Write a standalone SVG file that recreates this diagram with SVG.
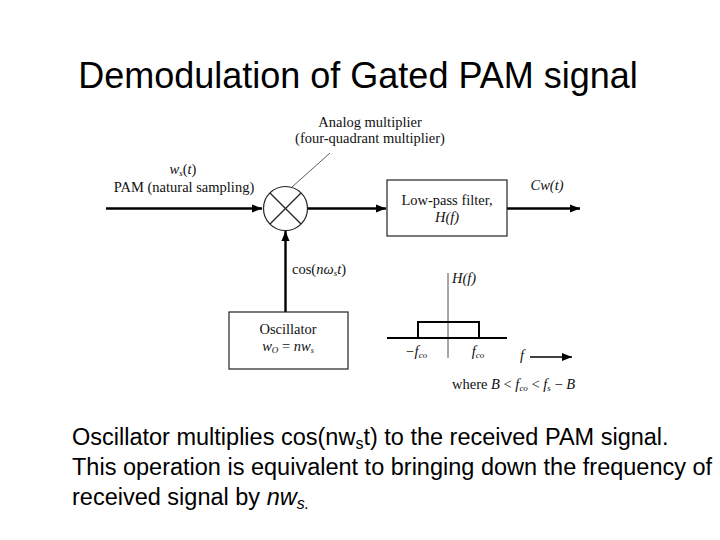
<svg xmlns="http://www.w3.org/2000/svg" width="720" height="540" viewBox="0 0 720 540">
<defs>
<marker id="ah" viewBox="0 0 10 10" refX="10" refY="5" markerWidth="10" markerHeight="10" markerUnits="userSpaceOnUse" orient="auto"><path d="M0,1 L10,5 L0,9 z" fill="#000"/></marker>
<style>
.s{font-family:"Liberation Serif",serif;font-size:14.5px;fill:#111}
.i{font-style:italic}
.b{fill:none;stroke:#222;stroke-width:1.2}
.w{stroke:#000;stroke-width:2.4;fill:none}
.t{font-family:"Liberation Sans",Arial,sans-serif;fill:#000}
</style>
</defs>
<rect width="720" height="540" fill="#fff"/>
<text class="t" x="358" y="88" font-size="36" text-anchor="middle">Demodulation of Gated PAM signal</text>
<g id="connectors">
<line class="w" x1="106" y1="208.5" x2="262" y2="208.5" marker-end="url(#ah)"/>
<line class="w" x1="308" y1="208.5" x2="386" y2="208.5" marker-end="url(#ah)"/>
<line class="w" x1="507" y1="208.5" x2="580" y2="208.5" marker-end="url(#ah)"/>
<line class="w" x1="285.5" y1="312" x2="285.5" y2="231" marker-end="url(#ah)"/>
<line x1="330" y1="153" x2="292" y2="187" stroke="#333" stroke-width="0.8"/>
</g>
<g id="multiplier">
<circle cx="285.5" cy="208.5" r="22" class="b"/>
<line x1="270" y1="193" x2="301" y2="224" stroke="#222" stroke-width="1.2"/>
<line x1="301" y1="193" x2="270" y2="224" stroke="#222" stroke-width="1.2"/>
<text class="s" x="370" y="127" text-anchor="middle">Analog multiplier</text>
<text class="s" x="370" y="143" text-anchor="middle">(four-quadrant multiplier)</text>
</g>
<g id="input">
<text class="s" x="183" y="174" text-anchor="middle"><tspan class="i">w</tspan><tspan font-size="9" dy="2" class="i">s</tspan><tspan dy="-2">(</tspan><tspan class="i">t</tspan>)</text>
<text class="s" x="184" y="192" text-anchor="middle">PAM (natural sampling)</text>
</g>
<g id="filter">
<rect x="387" y="180" width="120" height="56" class="b"/>
<text class="s" x="447" y="205" text-anchor="middle">Low-pass filter,</text>
<text class="s i" x="447" y="222" text-anchor="middle">H(f)</text>
</g>
<g id="output">
<text class="s i" x="547" y="190" text-anchor="middle">Cw(t)</text>
</g>
<g id="oscillator">
<rect x="229" y="312" width="119" height="57" class="b"/>
<text class="s" x="288" y="334" text-anchor="middle">Oscillator</text>
<text class="s" x="288" y="351" text-anchor="middle" font-size="12"><tspan class="i">w</tspan><tspan class="i" font-size="9" dy="2">O</tspan><tspan dy="-2"> = </tspan><tspan class="i">nw</tspan><tspan class="i" font-size="8" dy="2">s</tspan></text>
<text class="s" x="292" y="274">cos(<tspan class="i">nω</tspan><tspan class="i" font-size="9" dy="2">s</tspan><tspan class="i" dy="-2">t</tspan>)</text>
</g>
<g id="response">
<line x1="387" y1="338" x2="507" y2="338" stroke="#000" stroke-width="2"/>
<polyline points="418,338 418,322 479,322 479,338" stroke="#000" stroke-width="2" fill="none"/>
<line x1="448" y1="273" x2="448" y2="358" stroke="#222" stroke-width="0.8"/>
<text class="s i" x="452" y="283">H(f)</text>
<text class="s i" x="416" y="356" text-anchor="middle">−f<tspan font-size="9" dy="2">co</tspan></text>
<text class="s i" x="478" y="356" text-anchor="middle">f<tspan font-size="9" dy="2">co</tspan></text>
<text class="s i" x="520" y="360">f</text>
<line x1="530" y1="357" x2="572" y2="357" stroke="#000" stroke-width="1.5" marker-end="url(#ah)"/>
<text class="s" x="452" y="389">where <tspan class="i">B</tspan> &lt; <tspan class="i">f</tspan><tspan class="i" font-size="9" dy="2">co</tspan><tspan dy="-2"> &lt; </tspan><tspan class="i">f</tspan><tspan class="i" font-size="9" dy="2">s</tspan><tspan dy="-2"> − </tspan><tspan class="i">B</tspan></text>
</g>
<text class="t" x="72" y="445" font-size="23.5">Oscillator multiplies cos(nw<tspan font-size="16" dy="4">s</tspan><tspan dy="-4">t) to the received PAM signal.</tspan></text>
<text class="t" x="72" y="475" font-size="23.5">This operation is equivalent to bringing down the frequency of</text>
<text class="t" x="72" y="505" font-size="23.5">received signal by <tspan font-style="italic">nw</tspan><tspan font-size="16" dy="4" font-style="italic">s.</tspan></text>
</svg>
